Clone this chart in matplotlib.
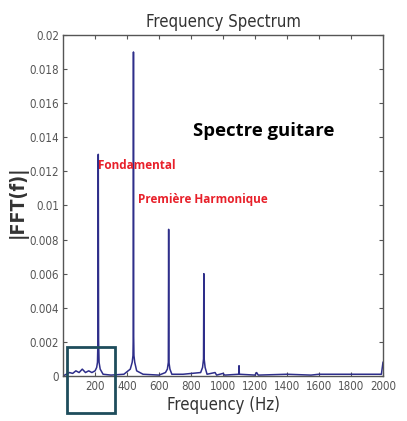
import matplotlib
matplotlib.use("Agg")
import matplotlib.pyplot as plt
from matplotlib.patches import Rectangle

# Spectrum samples (Hz, |FFT|)
freq = [0, 20, 40, 60, 80, 100, 120, 140, 160, 180, 200, 210, 215, 218, 220, 222, 225, 232, 250, 300,
        380, 420, 432, 437, 439, 440, 441, 443, 448, 460, 500, 600,
        640, 652, 658, 660, 662, 668, 680, 750,
        860, 872, 878, 880, 882, 888, 900, 950, 960, 1000, 1010,
        1098, 1100, 1102, 1200, 1210, 1220, 1400, 1550, 1600, 1800, 1990, 2000]
amp = [0.0, 0.0001, 0.0002, 0.00015, 0.0003, 0.0002, 0.0004, 0.0002, 0.0003, 0.0002, 0.0003, 0.0005, 0.0008, 0.0021, 0.013, 0.0021, 0.0008, 0.0004, 0.0001, 0.00005,
       0.0001, 0.0004, 0.0008, 0.0012, 0.0026, 0.019, 0.0026, 0.0012, 0.0008, 0.0003, 0.0001, 0.00005,
       0.0002, 0.0004, 0.0008, 0.0086, 0.0008, 0.0004, 0.0001, 0.0001,
       0.0002, 0.0005, 0.001, 0.006, 0.001, 0.0005, 0.0001, 0.0002, 0.00005, 0.00015, 0.00005,
       0.0001, 0.0006, 0.0001, 0.00005, 0.0002, 0.00005, 0.0001, 0.00005, 0.0001, 0.0001, 0.0001, 0.0008]

xticks = [200, 400, 600, 800, 1000, 1200, 1400, 1600, 1800, 2000]
yticks = [0, 0.002, 0.004, 0.006, 0.008, 0.01, 0.012, 0.014, 0.016, 0.018, 0.02]
ytick_labels = ["0", "0.002", "0.004", "0.006", "0.008", "0.01", "0.012", "0.014", "0.016", "0.018", "0.02"]

narrow = dict(family="DejaVu Sans", fontstretch="condensed")

fig = plt.figure(figsize=(4.07, 4.21), dpi=100)
ax = fig.add_axes([0.155, 0.107, 0.786, 0.810])
ax.plot(freq, amp, color="#2e2e8a", linewidth=1.1)
ax.set_xlim(0, 2000)
ax.set_ylim(0, 0.02)
ax.set_xticks(xticks)
ax.set_xticklabels([str(t) for t in xticks], fontsize=8.3, color="#555555", **narrow)
ax.set_yticks(yticks)
ax.set_yticklabels(ytick_labels, fontsize=8.3, color="#555555", **narrow)
ax.tick_params(direction="in", length=3, width=0.8, top=True, right=True, color="#555555", pad=3)
for s in ax.spines.values():
    s.set_color("#555555")
    s.set_linewidth(1.0)

ax.set_title("Frequency Spectrum", fontsize=12, color="#333333", pad=6, **narrow)
ax.set_xlabel("Frequency (Hz)", fontsize=12, color="#333333", labelpad=2, **narrow)
ax.set_ylabel("|FFT(f)|", fontsize=14, color="#333333", fontweight="bold", **narrow)
ax.yaxis.set_label_coords(-0.11, 0.51)

fig.text(0.647, 0.689, "Spectre guitare", family=["Open Sans", "DejaVu Sans"], fontsize=13.3,
         fontweight="bold", color="black", ha="center", va="center")
fig.text(0.241, 0.606, "Fondamental", family=["Open Sans", "DejaVu Sans"], fontsize=8.5,
         fontweight="bold", color="#e8202a", ha="left", va="center")
fig.text(0.339, 0.525, "Première Harmonique", family=["Open Sans", "DejaVu Sans"], fontsize=8.5,
         fontweight="bold", color="#e8202a", ha="left", va="center")

fig.patches.append(Rectangle((67 / 407, 1 - 413 / 421), 48 / 407, 66 / 421,
                             transform=fig.transFigure, fill=False,
                             edgecolor="#1e4d5c", linewidth=2.0, clip_on=False))

fig.savefig("out.png", dpi=100)
